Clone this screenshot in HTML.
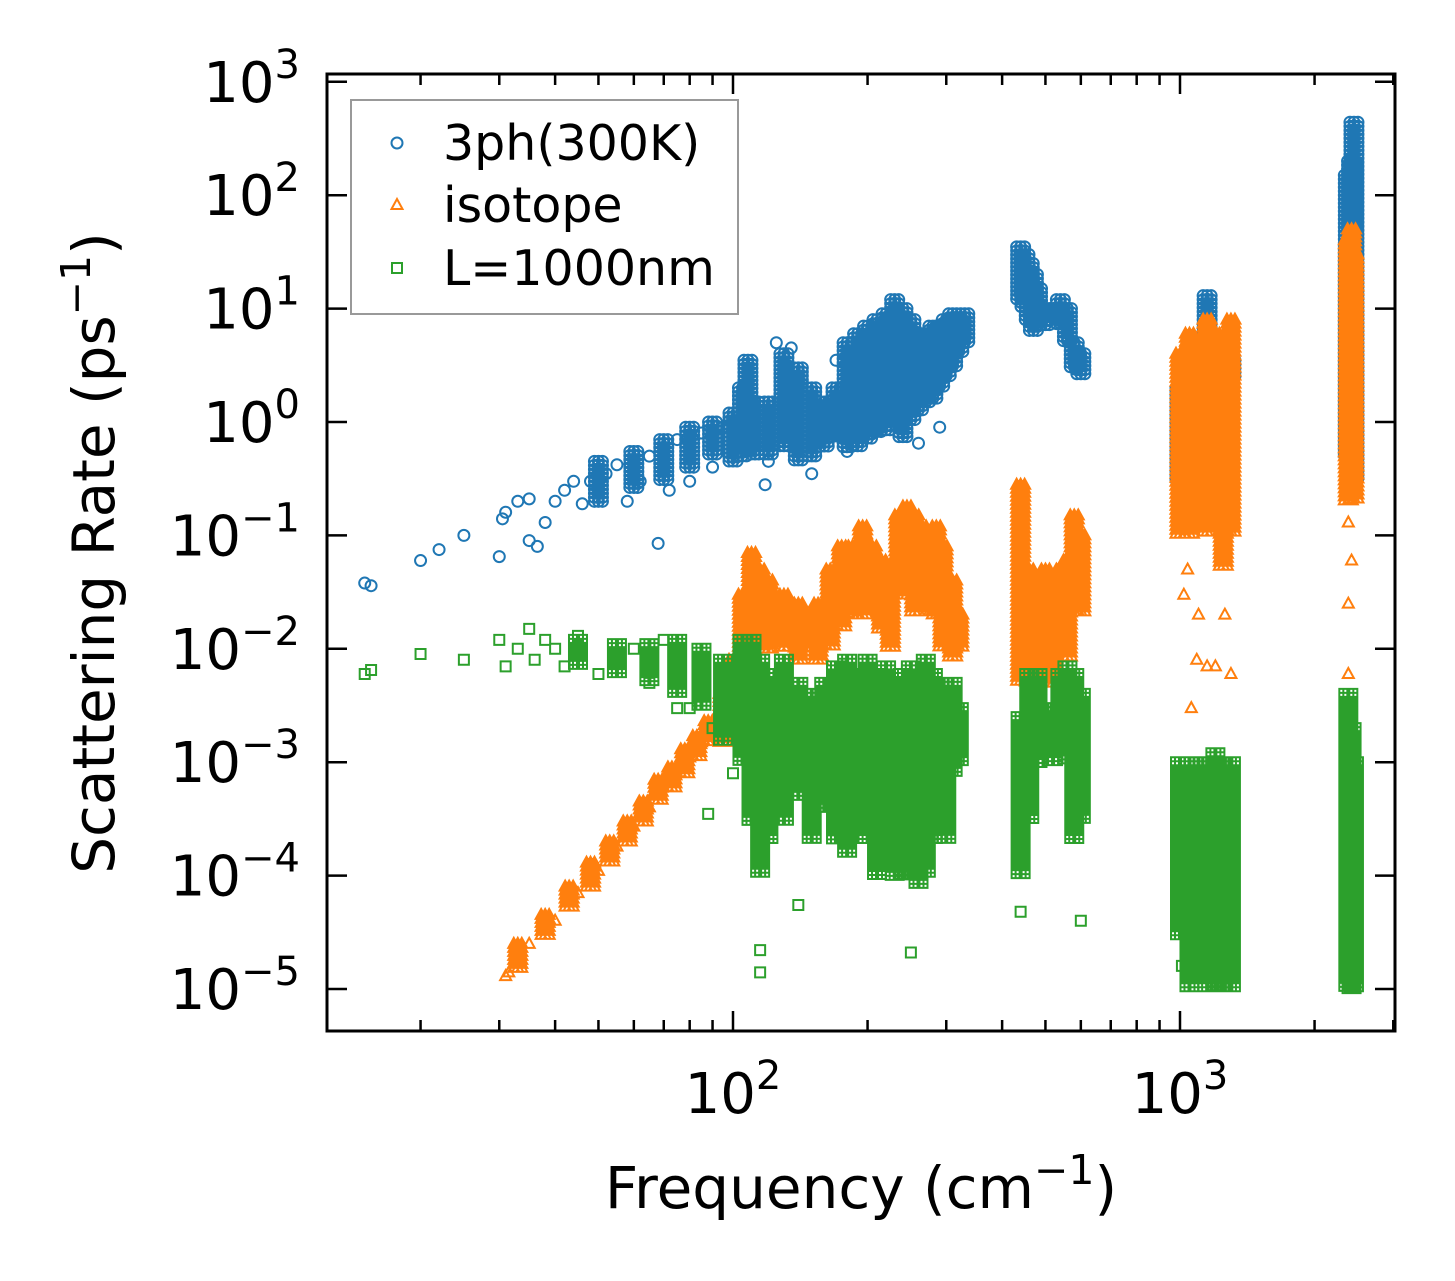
<!DOCTYPE html>
<html><head><meta charset="utf-8">
<style>
html,body{margin:0;padding:0;background:#fff;}
svg{display:block;font-family:"DejaVu Sans","Liberation Sans",sans-serif;}
</style></head>
<body>
<svg id="chart" width="1455" height="1281" viewBox="0 0 1455 1281" xmlns="http://www.w3.org/2000/svg">
<rect width="1455" height="1281" fill="#fff"/>
<g id="marks"></g>
<g id="axes"></g>
</svg>
<script>
// ---- data ----
const xTickValues = [100, 1000];
const xTickLabels = ["2", "3"];
const yTickValues = [1000, 100, 10, 1, 0.1, 0.01, 0.001, 0.0001, 0.00001];
const yTickExps = ["3", "2", "1", "0", "\u22121", "\u22122", "\u22123", "\u22124", "\u22125"];
const seriesNames = ["3ph(300K)", "isotope", "L=1000nm"];

// scattered points [freq, rate]
const phPoints = [[15,0.038],[15.5,0.036],[20,0.06],[22,0.075],[25,0.1],[30,0.065],[30.5,0.14],[31,0.16],[33,0.2],[35,0.09],[36.5,0.08],[35,0.21],[38,0.13],[40,0.2],[42,0.25],[44,0.3],[46,0.19],[48,0.3],[50,0.25],[52,0.35],[55,0.42],[58,0.2],[60,0.45],[62,0.3],[65,0.5],[68,0.085],[70,0.6],[72,0.25],[75,0.7],[80,0.3],[85,0.8],[90,0.4],[95,0.9],[125,5],[135,4.5],[120,0.45],[180,0.55],[260,0.65],[290,0.9],[170,3.5],[150,0.35],[118,0.28]];
const phBands = [[50,0.2,0.45],[60,0.25,0.55],[70,0.3,0.7],[80,0.4,0.9],[90,0.5,1.0],[100,0.45,1.2],[105,0.5,2],[108,0.8,3.5],[112,0.5,1.5],[120,0.5,1.5],[130,0.6,4],[140,0.45,3],[150,0.5,2],[160,0.6,1.5],[170,0.7,2],[180,0.6,5],[190,0.6,6],[200,0.7,7],[210,0.8,8],[220,0.8,9],[230,1.0,12],[240,0.7,10],[250,1,8],[260,1.2,6],[270,1.5,6],[280,1.5,7],[290,2,7],[300,2.5,8],[310,3,9],[320,4,8],[330,5,9],[440,12,35],[450,10,30],[460,8,25],[470,6,20],[480,7,15],[500,7,10],[520,8,10],[540,7,12],[560,5,10],[580,3,5],[600,2.5,4],[1000,0.3,2],[1050,0.3,4],[1100,0.5,3],[1150,1,13],[1200,1,5],[1250,2,4],[1300,2.5,3.5],[2380,0.5,150],[2420,1,200],[2450,0.3,440]];
const isoPoints = [[31,1.3e-5],[31.5,1.4e-5],[35,2.5e-5],[40,4e-5],[45,7e-5],[50,1.1e-4],[55,1.8e-4],[60,2.7e-4],[65,4e-4],[70,6e-4],[75,8e-4],[80,1.1e-3],[85,1.5e-3],[90,2e-3],[1040,0.05],[1020,0.03],[1100,0.02],[1150,0.007],[1200,0.007],[1090,0.008],[1300,0.006],[1260,0.02],[1060,0.003],[2380,0.025],[2380,0.006],[2380,0.13],[2420,0.06]];
const isoBands = [[33,1.5e-5,2.5e-5],[38,3e-5,4.5e-5],[43,5e-5,8e-5],[48,8e-5,1.3e-4],[53,1.3e-4,2e-4],[58,2e-4,3e-4],[63,3e-4,4.5e-4],[68,4.5e-4,7e-4],[73,6e-4,9e-4],[78,8e-4,1.3e-3],[83,1.1e-3,1.7e-3],[88,1.5e-3,2.3e-3],[95,1.5e-3,4e-3],[100,3e-3,8e-3],[105,5e-3,0.03],[110,8e-3,0.07],[115,0.01,0.05],[120,0.01,0.04],[130,0.01,0.03],[140,0.008,0.025],[150,0.01,0.02],[155,0.008,0.025],[165,0.01,0.05],[175,0.015,0.08],[185,0.02,0.08],[195,0.02,0.12],[205,0.025,0.08],[215,0.015,0.06],[225,0.01,0.03],[235,0.03,0.15],[245,0.03,0.18],[255,0.02,0.15],[265,0.03,0.12],[275,0.02,0.1],[285,0.02,0.12],[295,0.01,0.08],[310,0.008,0.04],[320,0.01,0.02],[440,0.005,0.28],[460,0.005,0.05],[480,0.005,0.03],[500,0.007,0.05],[520,0.005,0.02],[540,0.01,0.05],[560,0.008,0.06],[580,0.02,0.15],[600,0.02,0.1],[1000,0.1,4],[1050,0.1,6],[1100,0.15,5],[1150,0.1,8],[1200,0.2,6],[1250,0.05,4],[1300,0.1,8],[2380,0.2,40],[2420,0.5,50],[2450,0.2,30]];
const bdPoints = [[15,0.006],[15.5,0.0065],[20,0.009],[25,0.008],[30,0.012],[31,0.007],[33,0.01],[35,0.015],[36,0.008],[38,0.012],[40,0.01],[42,0.007],[45,0.013],[50,0.006],[55,0.008],[60,0.01],[65,0.005],[70,0.012],[75,0.003],[80,0.003],[85,0.004],[88,0.00035],[90,0.002],[100,0.0008],[115,0.000014],[115,0.000022],[250,0.000021],[140,0.000055],[440,0.000048],[600,0.00004],[1010,0.000016]];
const bdBands = [[45,0.007,0.012],[55,0.006,0.011],[65,0.005,0.011],[75,0.004,0.012],[85,0.003,0.01],[95,0.0015,0.008],[105,0.001,0.012],[110,0.0003,0.012],[115,0.0001,0.008],[120,0.0002,0.006],[130,0.0003,0.008],[140,0.0005,0.005],[150,0.0002,0.004],[160,0.0004,0.005],[170,0.0002,0.007],[180,0.00015,0.008],[190,0.0002,0.006],[200,0.0003,0.008],[210,0.0001,0.006],[220,0.0002,0.007],[230,0.0001,0.005],[240,0.0001,0.006],[250,0.0001,0.007],[260,0.00008,0.005],[270,0.0001,0.008],[280,0.0002,0.006],[290,0.0003,0.005],[300,0.0002,0.004],[310,0.0008,0.005],[320,0.001,0.003],[440,0.0001,0.0025],[460,0.0003,0.006],[480,0.001,0.006],[500,0.0015,0.003],[520,0.001,0.003],[540,0.002,0.006],[560,0.001,0.007],[580,0.0002,0.006],[600,0.0003,0.004],[1000,0.00003,0.001],[1050,0.00001,0.001],[1100,0.00002,0.001],[1150,0.00001,0.001],[1200,0.00001,0.0012],[1250,0.00001,0.001],[1300,0.00001,0.001],[2380,0.00001,0.004],[2420,0.00001,0.002],[2450,0.00001,0.001]];

// ---- axes functions ----
const PL=327, PR=1395, PT=74, PB=1031;
const X0=733, XD=447;
const Y0=422, YD=113.4;
function xs(f){return X0 + XD*(Math.log10(f)-2);}
function ys(r){return Y0 - YD*Math.log10(r);}
const NS="http://www.w3.org/2000/svg";
function mk(tag, attrs, parent){const e=document.createElementNS(NS,tag);for(const k in attrs)e.setAttribute(k,attrs[k]);parent.appendChild(e);return e;}

const marks=document.getElementById('marks');
const axes=document.getElementById('axes');
const clip=mk('clipPath',{id:'pc'},document.getElementById('chart'));
mk('rect',{x:PL,y:PT,width:PR-PL,height:PB-PT},clip);

function markerPath(kind,x,y){
  if(kind==='circle') return `M${x-5.5},${y}a5.5,5.5 0 1,0 11,0a5.5,5.5 0 1,0 -11,0`;
  if(kind==='tri') return `M${x},${y-6}L${x+5.5},${y+4}L${x-5.5},${y+4}Z`;
  return `M${x-5},${y-5}h10v10h-10Z`;
}
function drawSeries(name,points,bands,kind,color){
  let d='';
  for(const p of points){d+=markerPath(kind,xs(p[0]),ys(p[1]));}
  for(const b of bands){
    const x=xs(b[0]);const y1=ys(b[2]);const y2=ys(b[1]);
    for(const dx of [-4,0,4]){
      for(let y=y1;y<=y2+0.1;y+=4){d+=markerPath(kind,x+dx,y);}
    }
  }
  const p=mk('path',{d:d,fill:'none',stroke:color,'stroke-width':2,'clip-path':'url(#pc)'},marks);
  
  
}
drawSeries('series-3ph-300k',phPoints,phBands,'circle','#1f77b4');
drawSeries('series-isotope',isoPoints,isoBands,'tri','#ff7f0e');
drawSeries('series-boundary-1000nm',bdPoints,bdBands,'square','#2ca02c');

// frame
const fr=mk('rect',{x:PL,y:PT,width:PR-PL,height:PB-PT,fill:'none',stroke:'#000','stroke-width':3},axes);



// x ticks
for(let dec=10;dec<=1000;dec*=10){
  for(let m=1;m<10;m++){
    const f=dec*m; const x=xs(f);
    if(x<PL||x>PR) continue;
    const L=(m===1)?20:11;
    mk('line',{x1:x,y1:PB,x2:x,y2:PB-L,stroke:'#000','stroke-width':2.5},axes);
    mk('line',{x1:x,y1:PT,x2:x,y2:PT+L,stroke:'#000','stroke-width':2.5},axes);
  }
}
xTickValues.forEach((v,i)=>{
  const t=mk('text',{x:xs(v),y:1113,'font-size':56,'text-anchor':'middle',fill:'#000'},axes);
  
  
  t.innerHTML=`10<tspan dy="-24" font-size="40">${xTickLabels[i]}</tspan>`;
});
// y ticks
yTickValues.forEach((v,i)=>{
  const y=ys(v);
  mk('line',{x1:PL,y1:y,x2:PL+20,y2:y,stroke:'#000','stroke-width':2.5},axes);
  mk('line',{x1:PR,y1:y,x2:PR-20,y2:y,stroke:'#000','stroke-width':2.5},axes);
  const t=mk('text',{x:300,y:y+20,'font-size':56,'text-anchor':'end',fill:'#000'},axes);
  
  
  t.innerHTML=`10<tspan dy="-24" font-size="40">${yTickExps[i]}</tspan>`;
});
// titles
const xt=mk('text',{x:861,y:1208,'font-size':58,'text-anchor':'middle',fill:'#000'},axes);


xt.innerHTML='Frequency (cm<tspan dy="-24" font-size="41">\u22121</tspan><tspan dy="24">)</tspan>';
const yt=mk('text',{x:0,y:0,'font-size':58,'text-anchor':'middle',fill:'#000',transform:'translate(114,553) rotate(-90)'},axes);


yt.innerHTML='Scattering Rate (ps<tspan dy="-24" font-size="41">\u22121</tspan><tspan dy="24">)</tspan>';

// legend
const lg=mk('g',{},axes);


mk('rect',{x:351,y:100,width:387,height:214,fill:'#fff',stroke:'#999','stroke-width':2},lg);
const kinds=['circle','tri','square'], cols=['#1f77b4','#ff7f0e','#2ca02c'], ly=[143,205,268];
seriesNames.forEach((n,i)=>{
  const g=mk('g',{},lg);
  
  
  mk('path',{d:markerPath(kinds[i],397,ly[i]),fill:'none',stroke:cols[i],'stroke-width':2},g);
  const t=mk('text',{x:443,y:ly[i]+17,'font-size':49,fill:'#000'},g);
  t.textContent=n;
});
</script>
</body></html>
